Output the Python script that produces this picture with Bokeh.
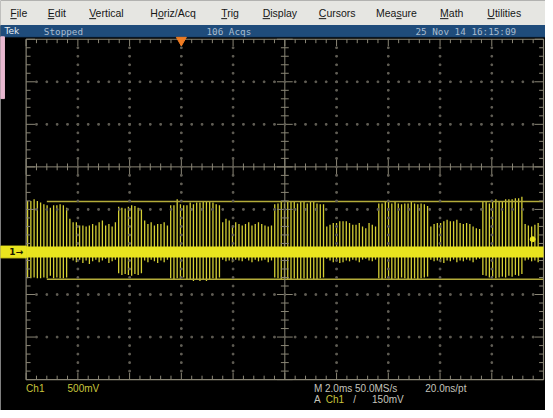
import numpy as np
from bokeh.plotting import figure
from bokeh.models import Range1d, ColumnDataSource
from bokeh.core.properties import value
from bokeh.embed import file_html
from bokeh.resources import INLINE

# ------------------------------------------------------------------ data
VOLTS_PER_DIV = 0.5          # Ch1 500mV/div
MS_PER_DIV = 2.0             # M 2.0ms/div
TRIGGER_TIME_MS = 6.0        # orange trigger position marker
TRIGGER_LEVEL_V = 0.15       # A Ch1 / 150mV
PULSE_PERIOD_MS = 0.1257     # spacing of the pulses on screen
FIRST_PULSE_MS = 0.057

# pulse tops / bottoms (volts), segment by segment (burst = high amplitude)
burst1_top = [0.60, 0.60, 0.62, 0.60, 0.58, 0.56, 0.55, 0.52, 0.55, 0.55, 0.56, 0.55, 0.52]
burst1_bot = [-0.31, -0.31, -0.30, -0.31, -0.31, -0.30, -0.31, -0.28, -0.31, -0.30, -0.31, -0.31, -0.30]
quiet1_top = [0.39, 0.35, 0.35, 0.31, 0.31, 0.30, 0.31, 0.33, 0.31, 0.35, 0.37, 0.31, 0.33, 0.30, 0.35]
quiet1_bot = [-0.08, -0.10, -0.12, -0.09, -0.13, -0.10, -0.14, -0.11, -0.09, -0.12, -0.10, -0.08, -0.13, -0.11, -0.09]
burst2_top = [0.53, 0.52, 0.51, 0.53, 0.55, 0.54, 0.52, 0.50]
burst2_bot = [-0.25, -0.27, -0.26, -0.27, -0.28, -0.26, -0.27, -0.25]
quiet2_top = [0.37, 0.33, 0.35, 0.31, 0.33, 0.33, 0.35, 0.31]
quiet2_bot = [-0.10, -0.12, -0.09, -0.11, -0.13, -0.10, -0.12, -0.09]
burst3_top = [0.55, 0.55, 0.62, 0.56, 0.55, 0.55, 0.58, 0.56, 0.58, 0.58, 0.60, 0.60, 0.60, 0.58, 0.56, 0.55]
burst3_bot = [-0.31, -0.32, -0.31, -0.33, -0.30, -0.32, -0.33, -0.34, -0.33, -0.34, -0.32, -0.34, -0.33, -0.31, -0.32, -0.30]
quiet3_top = [0.35, 0.39, 0.37, 0.31, 0.35, 0.33, 0.31, 0.33, 0.35, 0.31, 0.33, 0.35, 0.33, 0.31, 0.30, 0.31]
quiet3_bot = [-0.09, -0.11, -0.10, -0.12, -0.09, -0.10, -0.11, -0.08, -0.10, -0.12, -0.09, -0.11, -0.10, -0.09, -0.12, -0.10]
burst4_top = [0.56, 0.57, 0.59, 0.57, 0.59, 0.60, 0.59, 0.57, 0.59, 0.59, 0.57, 0.59, 0.59, 0.57, 0.56, 0.56]
burst4_bot = [-0.30, -0.31, -0.32, -0.31, -0.33, -0.32, -0.31, -0.32, -0.33, -0.31, -0.32, -0.31, -0.32, -0.33, -0.31, -0.30]
quiet4_top = [0.30, 0.32, 0.34, 0.34, 0.36, 0.36, 0.36, 0.34, 0.32, 0.32, 0.34, 0.30, 0.28, 0.34, 0.32, 0.30]
quiet4_bot = [-0.08, -0.10, -0.12, -0.11, -0.13, -0.12, -0.10, -0.11, -0.09, -0.10, -0.12, -0.09, -0.08, -0.10, -0.11, -0.09]
burst5_top = [0.57, 0.57, 0.59, 0.59, 0.57, 0.59, 0.57, 0.56, 0.57, 0.57, 0.59, 0.57, 0.56, 0.57, 0.56, 0.54]
burst5_bot = [-0.31, -0.32, -0.31, -0.33, -0.32, -0.31, -0.32, -0.30, -0.31, -0.33, -0.32, -0.31, -0.32, -0.31, -0.30, -0.29]
quiet5_top = [0.30, 0.33, 0.34, 0.34, 0.36, 0.38, 0.36, 0.36, 0.38, 0.34, 0.33, 0.34, 0.33, 0.30, 0.28, 0.27]
quiet5_bot = [-0.09, -0.11, -0.10, -0.12, -0.13, -0.10, -0.11, -0.09, -0.12, -0.10, -0.11, -0.09, -0.10, -0.12, -0.09, -0.08]
burst6_top = [0.59, 0.59, 0.57, 0.59, 0.62, 0.59, 0.59, 0.62, 0.62, 0.62, 0.63, 0.63, 0.65]
burst6_bot = [-0.27, -0.28, -0.30, -0.29, -0.31, -0.30, -0.29, -0.30, -0.28, -0.29, -0.27, -0.28, -0.26]
quiet6_top = [0.33, 0.31, 0.30, 0.32, 0.34]
quiet6_bot = [-0.10, -0.09, -0.11, -0.10, -0.12]

# persistence envelope lines (volts) and their time span (ms)
envelope_top_v = 0.593
envelope_bot_v = -0.32
envelope_t = [0.8, 20.0]

# ------------------------------------------------------------------ layout helpers
PX_PER_MS = 26.25            # 52.5 px per 2 ms division (reference pixels)
PX_PER_V = 86.75             # 43.375 px per 0.5 V division
V_TOP, V_BOT = 2.5, -1.5     # graticule limits (8 div), centre at 1.0 V
T_LEFT, T_RIGHT = 0.0, 20.0  # 10 div


def X(px):  # reference-screen pixel -> ms
    return (px - 26.0) / PX_PER_MS


def Y(py):  # reference-screen pixel -> volts
    return V_TOP - (py - 39.5) / PX_PER_V


tops = (burst1_top + quiet1_top + burst2_top + quiet2_top + burst3_top + quiet3_top +
        burst4_top + quiet4_top + burst5_top + quiet5_top + burst6_top + quiet6_top)
bots = (burst1_bot + quiet1_bot + burst2_bot + quiet2_bot + burst3_bot + quiet3_bot +
        burst4_bot + quiet4_bot + burst5_bot + quiet5_bot + burst6_bot + quiet6_bot)
times = FIRST_PULSE_MS + PULSE_PERIOD_MS * np.arange(len(tops))
pulses = ColumnDataSource(dict(t=times, top=tops, bot=bots))

W, H = 545, 410
p = figure(width=W, height=H,
           x_range=Range1d(X(0), X(553)), y_range=Range1d(Y(418), Y(0)),
           x_axis_location=None, y_axis_location=None,
           min_border=0, toolbar_location=None, output_backend="svg",
           background_fill_color="#000000", border_fill_color="#000000",
           outline_line_color=None)
p.xgrid.visible = False
p.ygrid.visible = False

# ------------------------------------------------------------------ menu + status bar
p.quad(left=[X(0)], right=[X(560)], top=[Y(-2)], bottom=[Y(25.5)], color="#e6e6e2")
p.quad(left=[X(0)], right=[X(560)], top=[Y(25.5)], bottom=[Y(37)], color="#1f4c7b")
p.quad(left=[X(0)], right=[X(4)], top=[Y(37)], bottom=[Y(100)], color="#e8b8d0")

menu_labels = ["File", "Edit", "Vertical", "Horiz/Acq", "Trig", "Display",
               "Cursors", "Measure", "Math", "Utilities"]
menu_x = [10, 48, 90, 152, 224, 266, 323, 381, 446, 494]
menu_ul = [(0, 6.5), (0, 6.5), (0, 7), (7.5, 13.5), (0, 6), (0, 7.5),
           (0, 7.5), (20.5, 26), (0, 8.5), (0, 7.5)]
p.text(x=[X(v) for v in menu_x], y=[Y(12.5)] * len(menu_x), text=menu_labels,
       text_font=value("Liberation Sans"), text_font_size="10.5px",
       text_color="#161616", text_baseline="middle", text_align="left")
p.segment(x0=[X(mx + a) for mx, (a, b) in zip(menu_x, menu_ul)],
          x1=[X(mx + b) for mx, (a, b) in zip(menu_x, menu_ul)],
          y0=[Y(18.5)] * len(menu_x), y1=[Y(18.5)] * len(menu_x),
          line_color="#161616", line_width=1)

p.text(x=[X(4)], y=[Y(31.5)], text=["Tek"], text_font=value("DejaVu Sans"),
       text_font_size="9px", text_color="#e8eef4", text_baseline="middle")
p.text(x=[X(44), X(209), X(421)], y=[Y(31.5)] * 3,
       text=["Stopped", "106 Acqs", "25 Nov 14 16:15:09"],
       text_font=value("DejaVu Sans Mono"), text_font_size="9.3px",
       text_color="#a9bccf", text_baseline="middle")

# ------------------------------------------------------------------ waveform
p.segment(x0="t", y0="bot", x1="t", y1="top", source=pulses,
          line_color="#d4cf34", line_width=1.3)
p.line(x=envelope_t, y=[envelope_top_v] * 2, line_color="#b4ac3a", line_width=1.6)
p.line(x=envelope_t, y=[envelope_bot_v] * 2, line_color="#b4ac3a", line_width=1.6)

# ------------------------------------------------------------------ graticule
gcol = "#8a8676"
dcol = "#625f56"
px_t = 1.0 / PX_PER_MS
px_v = 1.0 / PX_PER_V
# border
p.multi_line(xs=[[T_LEFT, T_RIGHT, T_RIGHT, T_LEFT, T_LEFT]],
             ys=[[V_TOP, V_TOP, V_BOT, V_BOT, V_TOP]], line_color=gcol, line_width=1.2)
# centre cross
p.segment(x0=[10.0, T_LEFT], x1=[10.0, T_RIGHT], y0=[V_BOT, 1.0], y1=[V_TOP, 1.0],
          line_color=gcol, line_width=1)
sx0, sx1, sy0, sy1 = [], [], [], []
for k in range(51):                    # along x, minor step 0.4 ms
    t = k * 0.4
    major = (k % 5 == 0)
    L = (7 if major else 4) * px_v
    sx0 += [t, t]; sx1 += [t, t]; sy0 += [V_TOP, V_BOT]; sy1 += [V_TOP - L, V_BOT + L]
    c = (8 if major else 3.5) * px_v
    sx0.append(t); sx1.append(t); sy0.append(1.0 - c); sy1.append(1.0 + c)
for k in range(41):                    # along y, minor step 0.1 V
    v = V_BOT + k * 0.1
    major = (k % 5 == 0)
    L = (9 if major else 4.5) * px_t
    sx0 += [T_LEFT, T_RIGHT]; sx1 += [T_LEFT + L, T_RIGHT - L]; sy0 += [v, v]; sy1 += [v, v]
    c = (8 if major else 4) * px_t
    sx0.append(10.0 - c); sx1.append(10.0 + c); sy0.append(v); sy1.append(v)
p.segment(x0=sx0, x1=sx1, y0=sy0, y1=sy1, line_color=gcol, line_width=1)
# dotted major lines
dx, dy = [], []
for t in [2, 4, 6, 8, 12, 14, 16, 18]:
    for k in range(1, 40):
        dx.append(float(t)); dy.append(V_BOT + k * 0.1)
for v in [-1.0, -0.5, 0.0, 0.5, 1.5, 2.0]:
    for k in range(1, 50):
        dx.append(k * 0.4); dy.append(v)
p.scatter(x=dx, y=dy, marker="square", size=1.6, color=dcol)

# ------------------------------------------------------------------ baseline band + markers
p.line(x=[T_LEFT, T_RIGHT], y=[0.0, 0.0], line_color="#e9e41e", line_width=11)
p.quad(left=[X(0)], right=[X(26)], top=[6 * px_v], bottom=[-6 * px_v], color="#e9e41e")
p.text(x=[X(9)], y=[0.0], text=["1\u2192"], text_font=value("DejaVu Sans"),
       text_font_size="9px", text_color="#1a1a00", text_baseline="middle",
       text_font_style="bold")
p.scatter(x=[TRIGGER_TIME_MS], y=[Y(40.5)], marker="inverted_triangle", size=10,
          color="#f07c22")
p.scatter(x=[X(540)], y=[TRIGGER_LEVEL_V], marker="circle", size=5, color="#e9e41e")

# ------------------------------------------------------------------ bottom readouts
ycol = "#c9c53c"
wcol = "#c4c4bc"
p.text(x=[X(26), X(68)], y=[Y(396)] * 2, text=["Ch1", "500mV"],
       text_font=value("Liberation Sans"), text_font_size="10px",
       text_color=ycol, text_baseline="middle")
p.text(x=[X(318), X(431), X(318), X(358), X(377)],
       y=[Y(396), Y(396), Y(407), Y(407), Y(407)],
       text=["M 2.0ms 50.0MS/s", "20.0ns/pt", "A", "/", "150mV"],
       text_font=value("Liberation Sans"), text_font_size="10px",
       text_color=wcol, text_baseline="middle")
p.text(x=[X(330)], y=[Y(407)], text=["Ch1"],
       text_font=value("Liberation Sans"), text_font_size="10px",
       text_color=ycol, text_baseline="middle")

open("out.html", "w").write(file_html(p, INLINE))
